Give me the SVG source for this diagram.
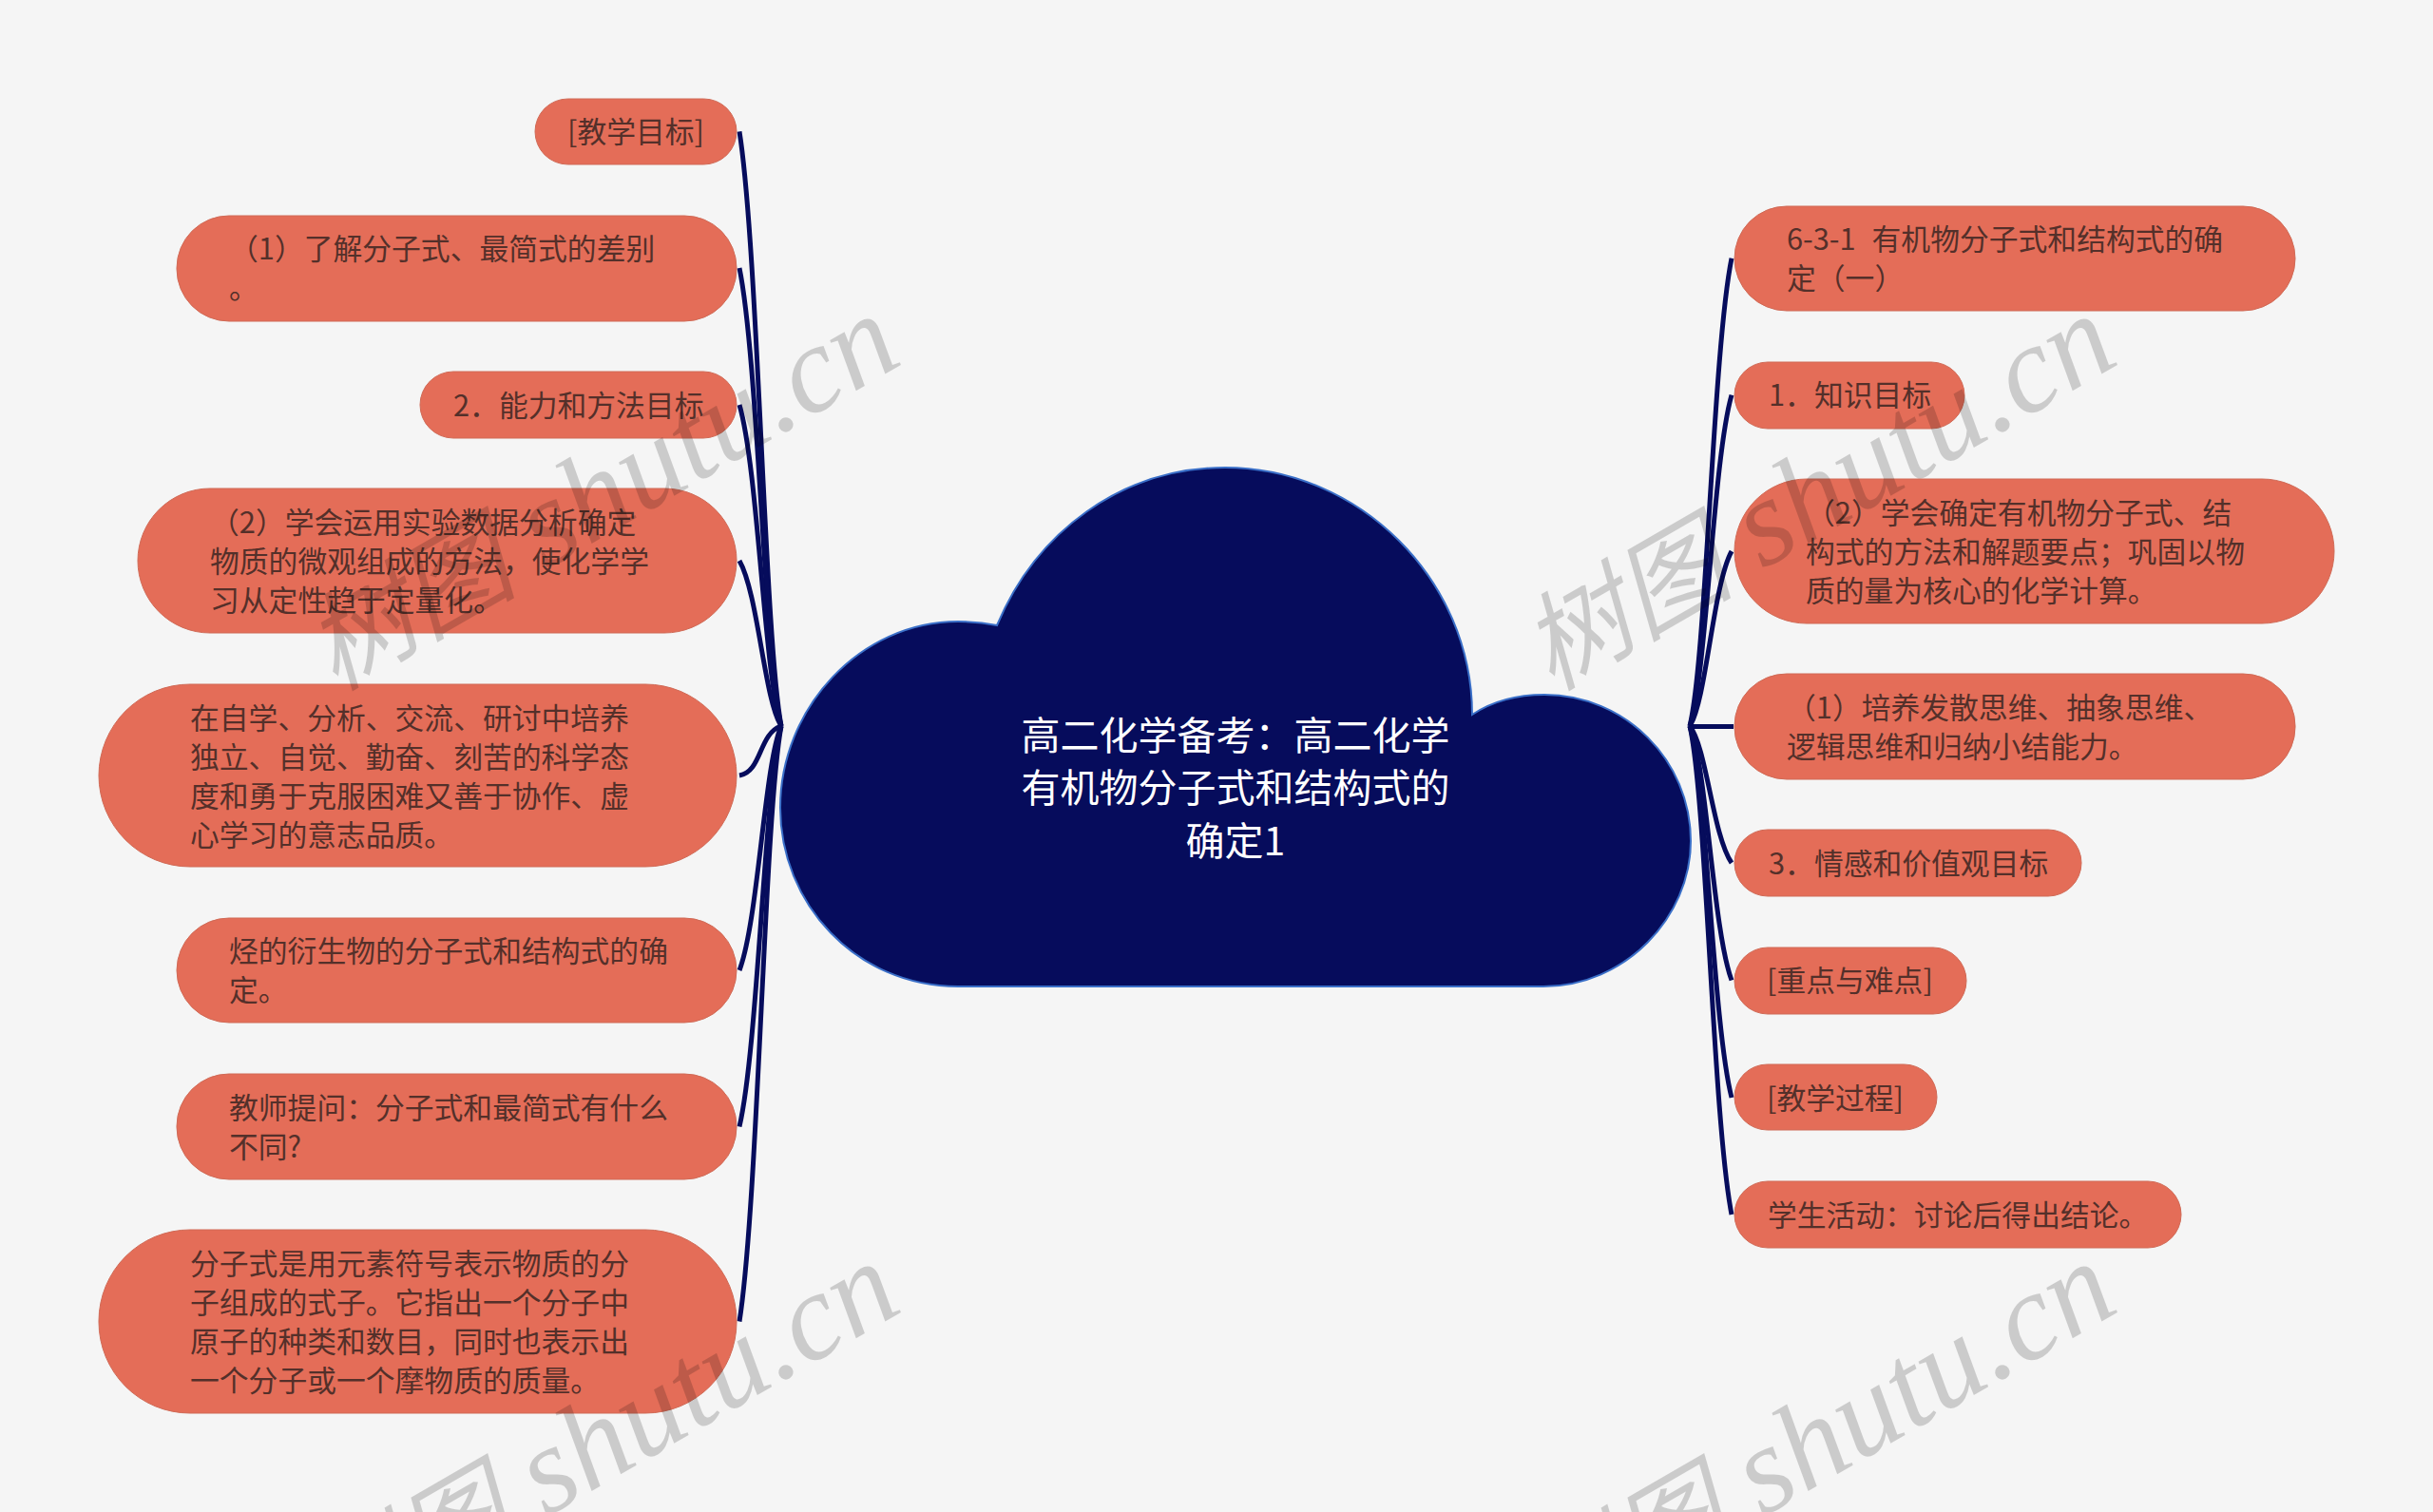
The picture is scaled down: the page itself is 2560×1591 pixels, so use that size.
<svg xmlns="http://www.w3.org/2000/svg" width="2560" height="1591" viewBox="0 0 2560 1591">
<style>
.n{fill:#e46d58;stroke:#d06a56;stroke-width:1}
.t{font-family:"Noto Sans CJK SC","Noto Sans",sans-serif;font-size:30.8px;fill:#54302a;transform:translateY(.7px)}
.r{font-family:"Noto Sans CJK SC","Noto Sans",sans-serif;font-size:41px;fill:#fff;text-anchor:middle;transform:translateY(1px)}
.c{fill:none;stroke:#060c5c;stroke-width:5}
.w{font-family:"Liberation Serif","Noto Sans CJK SC",serif;font-style:italic;font-size:130px;fill:#000;fill-opacity:.17;text-anchor:end}
.k{font-size:112px}
</style>
<rect width="2560" height="1591" fill="#f5f5f5"/>
<g id="connectors">
<path class="c" d="M778,138.4C797.8,263.5 804.4,670.2 822,764"/>
<path class="c" d="M778,282C797.8,378.4 804.4,691.7 822,764"/>
<path class="c" d="M778,426C797.8,493.6 804.4,713.3 822,764"/>
<path class="c" d="M778,590C797.8,624.8 804.4,737.9 822,764"/>
<path class="c" d="M778,816C802,812 798,772 822,764"/>
<path class="c" d="M778,1021C797.8,969.6 804.4,802.6 822,764"/>
<path class="c" d="M778,1185.5C797.8,1101.2 804.4,827.2 822,764"/>
<path class="c" d="M778,1390.5C797.8,1265.2 804.4,858 822,764"/>
<path class="c" d="M1822,271.7C1802.2,370.2 1795.6,690.2 1778,764"/>
<path class="c" d="M1822,415.6C1802.2,485.3 1795.6,711.7 1778,764"/>
<path class="c" d="M1822,580C1802.2,616.8 1795.6,736.4 1778,764"/>
<path class="c" d="M1824,764.5L1778,764.5"/>
<path class="c" d="M1822,908C1802.2,879.2 1795.6,785.6 1778,764"/>
<path class="c" d="M1822,1031.5C1802.2,978 1795.6,804.1 1778,764"/>
<path class="c" d="M1822,1155C1802.2,1076.8 1795.6,822.7 1778,764"/>
<path class="c" d="M1822,1278C1802.2,1175.2 1795.6,841.1 1778,764"/>
</g>
<g id="root">
<path d="M1008,1038C900,1038 821,950 821,850C821,745 905,654 1008,654Q1030,654 1049,658C1090,560 1180,492 1289,492C1430,492 1549,610 1549,752C1570,738 1595,731 1625,731C1710,731 1779,800 1779,885C1779,965 1710,1038 1624,1038Z" fill="#060c5c" stroke="#3a6fc8" stroke-width="2"/>
<text class="r" x="1300" y="788">高二化学备考&#xFF1A;高二化学</text>
<text class="r" x="1300" y="843">有机物分子式和结构式的</text>
<text class="r" x="1300" y="899">确定1</text>
</g>
<g id="l1"><rect class="n" x="563" y="104" width="212" height="69" rx="34.5"/><text class="t" x="597" y="149">[教学目标]</text></g>
<g id="l2"><rect class="n" x="186" y="227" width="589" height="111" rx="55"/><text class="t" x="241" y="272">&#xFF08;1&#xFF09;了解分子式、最简式的差别</text><text class="t" x="241" y="313">。</text></g>
<g id="l3"><rect class="n" x="442" y="391" width="333" height="70" rx="35"/><text class="t" x="477" y="437">2&#xFF0E;能力和方法目标</text></g>
<g id="l4"><rect class="n" x="145" y="514" width="630" height="152" rx="76"/><text class="t" x="221" y="560">&#xFF08;2&#xFF09;学会运用实验数据分析确定</text><text class="t" x="221" y="601">物质的微观组成的方法&#xFF0C;使化学学</text><text class="t" x="221" y="642">习从定性趋于定量化。</text></g>
<g id="l5"><rect class="n" x="104" y="720" width="671" height="192" rx="96"/><text class="t" x="200" y="766">在自学、分析、交流、研讨中培养</text><text class="t" x="200" y="807">独立、自觉、勤奋、刻苦的科学态</text><text class="t" x="200" y="848">度和勇于克服困难又善于协作、虚</text><text class="t" x="200" y="889">心学习的意志品质。</text></g>
<g id="l6"><rect class="n" x="186" y="966" width="589" height="110" rx="55"/><text class="t" x="241" y="1011">烃的衍生物的分子式和结构式的确</text><text class="t" x="241" y="1052">定。</text></g>
<g id="l7"><rect class="n" x="186" y="1130" width="589" height="111" rx="55"/><text class="t" x="241" y="1176">教师提问&#xFF1A;分子式和最简式有什么</text><text class="t" x="241" y="1217">不同?</text></g>
<g id="l8"><rect class="n" x="104" y="1294" width="671" height="193" rx="96"/><text class="t" x="200" y="1340">分子式是用元素符号表示物质的分</text><text class="t" x="200" y="1381">子组成的式子。它指出一个分子中</text><text class="t" x="200" y="1422">原子的种类和数目&#xFF0C;同时也表示出</text><text class="t" x="200" y="1463">一个分子或一个摩物质的质量。</text></g>
<g id="r1"><rect class="n" x="1825" y="217" width="590" height="110" rx="55"/><text class="t" x="1880" y="262">6-3-1 <tspan dx="10">有机物分子式和结构式的确</tspan></text><text class="t" x="1880" y="303">定&#xFF08;一&#xFF09;</text></g>
<g id="r2"><rect class="n" x="1825" y="381" width="242" height="70" rx="35"/><text class="t" x="1861" y="426">1&#xFF0E;知识目标</text></g>
<g id="r3"><rect class="n" x="1825" y="504" width="631" height="152" rx="76"/><text class="t" x="1900" y="550">&#xFF08;2&#xFF09;学会确定有机物分子式、结</text><text class="t" x="1900" y="591">构式的方法和解题要点&#xFF1B;巩固以物</text><text class="t" x="1900" y="632">质的量为核心的化学计算。</text></g>
<g id="r4"><rect class="n" x="1825" y="709" width="590" height="111" rx="55"/><text class="t" x="1880" y="755">&#xFF08;1&#xFF09;培养发散思维、抽象思维、</text><text class="t" x="1880" y="796">逻辑思维和归纳小结能力。</text></g>
<g id="r5"><rect class="n" x="1825" y="873" width="365" height="70" rx="35"/><text class="t" x="1861" y="919">3&#xFF0E;情感和价值观目标</text></g>
<g id="r6"><rect class="n" x="1825" y="997" width="244" height="70" rx="35"/><text class="t" x="1859" y="1042">[重点与难点]</text></g>
<g id="r7"><rect class="n" x="1825" y="1120" width="213" height="69" rx="34.5"/><text class="t" x="1859" y="1166">[教学过程]</text></g>
<g id="r8"><rect class="n" x="1825" y="1243" width="470" height="70" rx="35"/><text class="t" x="1860" y="1289">学生活动&#xFF1A;讨论后得出结论。</text></g>
<g id="watermark">
<text class="w" transform="translate(953,381) rotate(-30)"><tspan class="k">树图</tspan> shutu.cn</text>
<text class="w" transform="translate(2233,381) rotate(-30)"><tspan class="k">树图</tspan> shutu.cn</text>
<text class="w" transform="translate(953,1378) rotate(-30)"><tspan class="k">树图</tspan> shutu.cn</text>
<text class="w" transform="translate(2233,1378) rotate(-30)"><tspan class="k">树图</tspan> shutu.cn</text>
</g>
</svg>
